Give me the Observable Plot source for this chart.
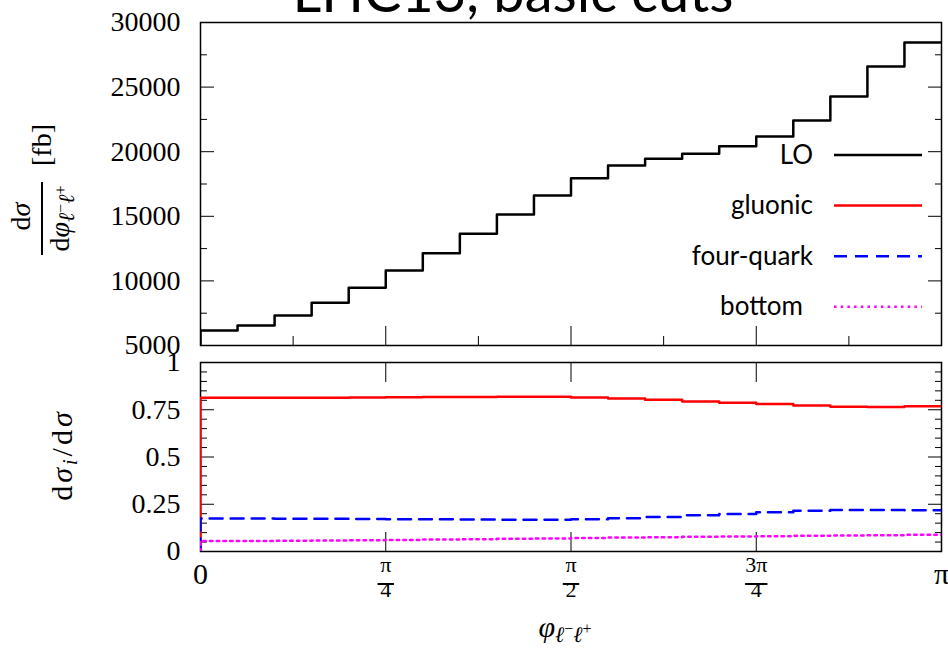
<!DOCTYPE html>
<html><head><meta charset="utf-8">
<script src="https://cdn.jsdelivr.net/npm/d3@7"></script>
<script src="https://cdn.jsdelivr.net/npm/@observablehq/plot@0.6"></script>
<style>
body{margin:0;background:#fff}
#wrap{position:relative;width:948px;height:652px;overflow:hidden;background:#fff}
#top,#bot{position:absolute;left:0}
#top{top:0}
#bot{top:352px}
#overlay{position:absolute;left:0;top:0;pointer-events:none}
</style></head>
<body>
<div id="wrap"><div id="top"></div><div id="bot"></div><svg id="overlay" width="948" height="652"></svg></div>
<script>
// ---------- data ----------
const nBins = 20;
const xMax = Math.PI;
const LO        = [6160, 6550, 7320, 8300, 9470, 10800, 12140, 13650, 15140, 16610,
                   17950, 18930, 19450, 19840, 20430, 21180, 22420, 24270, 26590, 28450];
const gluonic   = [0.813, 0.813, 0.814, 0.814, 0.815, 0.816, 0.817, 0.818, 0.819, 0.819,
                   0.815, 0.810, 0.803, 0.794, 0.787, 0.780, 0.773, 0.766, 0.765, 0.768];
const fourQuark = [0.174, 0.174, 0.173, 0.173, 0.172, 0.171, 0.170, 0.169, 0.168, 0.168,
                   0.171, 0.176, 0.183, 0.192, 0.199, 0.208, 0.215, 0.219, 0.219, 0.218];
const bottomQ   = [0.056, 0.056, 0.057, 0.058, 0.059, 0.061, 0.063, 0.065, 0.067, 0.069,
                   0.072, 0.074, 0.076, 0.078, 0.079, 0.081, 0.083, 0.085, 0.086, 0.088];
const seriesNames = ["LO", "gluonic", "four-quark", "bottom"];
const seriesColors = ["#000000", "#ff0000", "#0000ff", "#ff00ff"];
const seriesDash = [null, null, "13,8", "2.5,4.2"];
const titleText = "LHC13, basic cuts";

const yTopMajor = [5000, 10000, 15000, 20000, 25000, 30000];
const yTopMinor = [7500, 12500, 17500, 22500, 27500];
const yBotMajor = [0, 0.25, 0.5, 0.75, 1];
const yBotMinor = [0.05, 0.1, 0.15, 0.2, 0.3, 0.35, 0.4, 0.45, 0.55, 0.6, 0.65, 0.7, 0.8, 0.85, 0.9, 0.95];
const xMajor = [0, Math.PI / 4, Math.PI / 2, 3 * Math.PI / 4, Math.PI];
const xMinor = [Math.PI / 8, 3 * Math.PI / 8, 5 * Math.PI / 8, 7 * Math.PI / 8];
const xBigLabels = [{v: 0, t: "0"}, {v: Math.PI, t: "π"}];
const xFracPos = [Math.PI / 4, Math.PI / 2, 3 * Math.PI / 4];
const xFracNum = ["π", "π", "3π"];
const xFracDen = ["4", "2", "4"];

// histogram step points (drop to baseline at the left edge)
function steps(vals, base) {
  const pts = [{x: 0, y: base}];
  vals.forEach((v, i) => pts.push({x: i * xMax / nBins, y: v}));
  pts.push({x: xMax, y: vals[vals.length - 1]});
  return pts;
}

const baseStyle = {fontFamily: "Liberation Serif", fontSize: "28px", color: "black",
                   background: "transparent", overflow: "visible"};

// a plain line segment shape for the fraction bars
const barShape = {draw(context, l) { context.moveTo(0, 0); context.lineTo(0, -l); }};

// ---------- top panel ----------
const topPlot = Plot.plot({
  width: 948, height: 352,
  marginLeft: 200, marginRight: 7, marginTop: 22, marginBottom: 7,
  x: {domain: [0, Math.PI]},
  y: {domain: [5000, 30000]},
  style: baseStyle,
  marks: [
    Plot.frame({stroke: "black", strokeWidth: 1.5}),
    Plot.axisY({ticks: yTopMajor, tickSize: -14, tickPadding: 34, tickFormat: d => String(d), label: null}),
    Plot.axisY({ticks: yTopMinor, tickSize: -7, fill: "none", label: null}),
    Plot.axisY({anchor: "right", ticks: yTopMajor, tickSize: -14, fill: "none", label: null}),
    Plot.axisY({anchor: "right", ticks: yTopMinor, tickSize: -7, fill: "none", label: null}),
    Plot.axisX({anchor: "bottom", ticks: xMajor, tickSize: -19, fill: "none", label: null}),
    Plot.axisX({anchor: "bottom", ticks: xMinor, tickSize: -9, fill: "none", label: null}),
    Plot.line(steps(LO, 0), {x: "x", y: "y", curve: "step-after", stroke: seriesColors[0], strokeWidth: 2.5, clip: true})
  ]
});
document.getElementById("top").append(topPlot);

// ---------- bottom panel ----------
const ratioSeries = [gluonic, fourQuark, bottomQ];
const botPlot = Plot.plot({
  width: 948, height: 300,
  marginLeft: 200, marginRight: 7, marginTop: 10, marginBottom: 101,
  x: {domain: [0, Math.PI]},
  y: {domain: [0, 1]},
  style: baseStyle,
  marks: [
    Plot.frame({stroke: "black", strokeWidth: 1.5}),
    Plot.axisY({ticks: yBotMajor, tickSize: -14, tickPadding: 34, tickFormat: d => String(d), label: null}),
    Plot.axisY({ticks: yBotMinor, tickSize: -7, fill: "none", label: null}),
    Plot.axisY({anchor: "right", ticks: yBotMajor, tickSize: -14, fill: "none", label: null}),
    Plot.axisY({anchor: "right", ticks: yBotMinor, tickSize: -7, fill: "none", label: null}),
    Plot.axisX({anchor: "bottom", ticks: xMajor, tickSize: -19, fill: "none", label: null}),
    Plot.axisX({anchor: "top", ticks: xMajor, tickSize: -19, fill: "none", label: null}),
    ...ratioSeries.map((s, k) => Plot.line(steps(s, 0), {
      x: "x", y: "y", curve: "step-after", stroke: seriesColors[k + 1], strokeWidth: 2.5,
      strokeDasharray: seriesDash[k + 1] || undefined, clip: true
    })),
    Plot.text(xBigLabels, {x: "v", text: "t", frameAnchor: "bottom", dy: 32, fontSize: 30}),
    Plot.text(xFracPos, {x: d => d, text: (d, i) => xFracNum[i], frameAnchor: "bottom", dy: 20, fontSize: 22}),
    Plot.text(xFracPos, {x: d => d, text: (d, i) => xFracDen[i], frameAnchor: "bottom", dy: 45.5, fontSize: 22}),
    Plot.vector(xFracPos, {x: d => d, filter: (d, i) => xFracNum[i].length === 1, frameAnchor: "bottom", dy: 32.5,
      length: 15, rotate: 90, anchor: "middle", shape: barShape, stroke: "black", strokeWidth: 1.8}),
    Plot.vector(xFracPos, {x: d => d, filter: (d, i) => xFracNum[i].length > 1, frameAnchor: "bottom", dy: 32.5,
      length: 21, rotate: 90, anchor: "middle", shape: barShape, stroke: "black", strokeWidth: 1.8})
  ]
});
document.getElementById("bot").append(botPlot);

// ---------- title, axis labels, legend ----------
const legendRows = seriesNames.map((name, i) => {
  const y = 155 + i * 50.6;
  const xr = i === 3 ? 803 : 813;
  const dash = seriesDash[i] ? `stroke-dasharray="${seriesDash[i]}"` : "";
  return `<text x="${xr}" y="${y + 8.5}" text-anchor="end" font-family="Lato" font-size="26" fill="#000">${name}</text>
          <line x1="834" x2="922" y1="${y}" y2="${y}" stroke="${seriesColors[i]}" stroke-width="2.5" ${dash}/>`;
}).join("");

const sub = `<tspan font-style="italic" font-size="22" dy="5">ℓ</tspan><tspan font-size="16" dy="-8">−</tspan><tspan font-style="italic" font-size="22" dy="8">ℓ</tspan><tspan font-size="16" dy="-8">+</tspan>`;

document.getElementById("overlay").innerHTML = `
<text x="513" y="12" text-anchor="middle" font-family="Lato" font-size="56" fill="#000">${titleText}</text>
<g font-family="Liberation Serif" font-size="28" fill="#000">
  <g transform="translate(42,218.5) rotate(-90)">
    <text x="2" y="-12" text-anchor="middle">d<tspan font-style="italic">σ</tspan></text>
    <line x1="-36.5" x2="36.5" y1="0" y2="0" stroke="#000" stroke-width="2"/>
    <text x="0" y="27" text-anchor="middle">d<tspan font-style="italic">φ</tspan>${sub}</text>
    <text x="73.5" y="9" text-anchor="middle">[fb]</text>
  </g>
  <g transform="translate(64,455) rotate(-90)">
    <text x="0" y="8" text-anchor="middle" font-size="30" letter-spacing="3">d<tspan font-style="italic">σ</tspan><tspan font-style="italic" font-size="20" dy="5">i</tspan><tspan dy="-5">/d</tspan><tspan font-style="italic">σ</tspan></text>
  </g>
  <text x="565" y="637" text-anchor="middle" font-size="30"><tspan font-style="italic">φ</tspan>${sub}</text>
</g>
${legendRows}
`;
</script>
</body></html>
